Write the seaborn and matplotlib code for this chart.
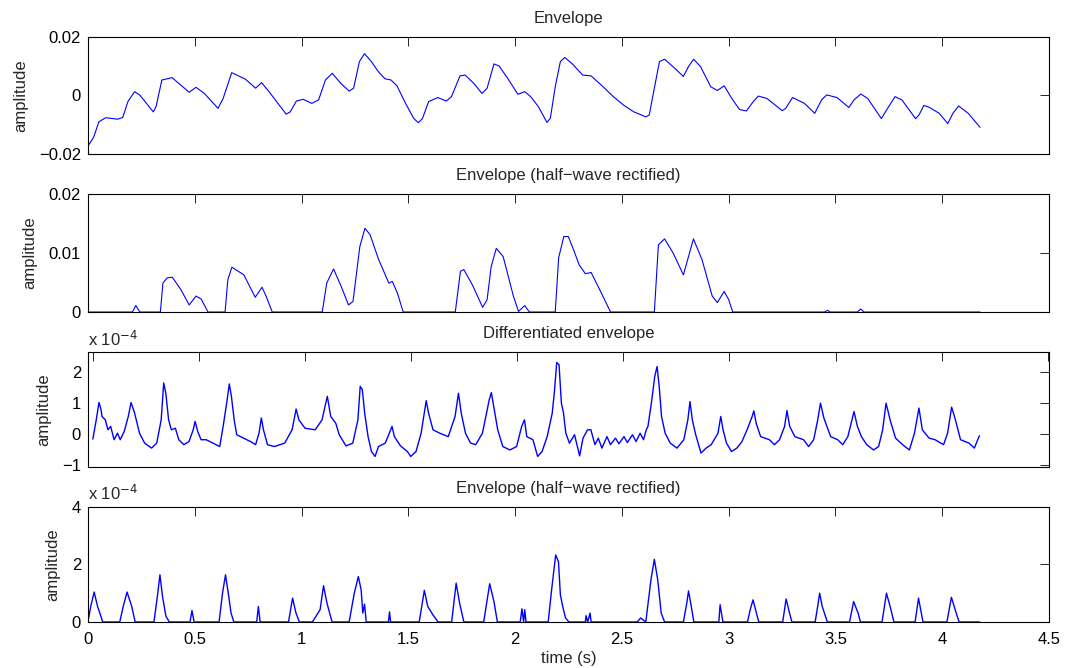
import numpy as np
import matplotlib.pyplot as plt
import seaborn as sns

# envelope (top panel)
env_t = [0.000, 0.027, 0.051, 0.083, 0.139, 0.163, 0.187, 0.218, 0.242, 0.306, 0.319, 0.346,
         0.394, 0.434, 0.474, 0.506, 0.545, 0.609, 0.633, 0.673, 0.737, 0.785, 0.813, 0.848,
         0.928, 0.947, 0.976, 1.008, 1.048, 1.080, 1.112, 1.144, 1.183, 1.223, 1.244, 1.271,
         1.295, 1.327, 1.359, 1.391, 1.419, 1.447, 1.487, 1.526, 1.547, 1.566, 1.595, 1.638,
         1.678, 1.702, 1.742, 1.766, 1.806, 1.845, 1.869, 1.901, 1.925, 1.965, 2.013, 2.045,
         2.073, 2.109, 2.149, 2.165, 2.188, 2.212, 2.233, 2.268, 2.316, 2.356, 2.412, 2.460,
         2.508, 2.556, 2.612, 2.628, 2.652, 2.676, 2.700, 2.748, 2.788, 2.812, 2.836, 2.868,
         2.916, 2.947, 2.979, 3.019, 3.051, 3.083, 3.115, 3.139, 3.179, 3.251, 3.267, 3.299,
         3.355, 3.403, 3.435, 3.459, 3.507, 3.563, 3.587, 3.619, 3.651, 3.715, 3.739, 3.779,
         3.811, 3.875, 3.891, 3.914, 3.938, 3.986, 4.026, 4.050, 4.077, 4.122, 4.177]
env_amp = [-0.0173, -0.0142, -0.0090, -0.0076, -0.0081, -0.0075, -0.0021, 0.0013, 0.0002, -0.0056,
           -0.0038, 0.0053, 0.0061, 0.0036, 0.0011, 0.0028, 0.0007, -0.0044, -0.0010, 0.0078,
           0.0056, 0.0025, 0.0044, 0.0013, -0.0064, -0.0056, -0.0019, -0.0013, -0.0027, -0.0015,
           0.0053, 0.0076, 0.0042, 0.0015, 0.0025, 0.0116, 0.0143, 0.0116, 0.0082, 0.0057,
           0.0053, 0.0033, -0.0027, -0.0079, -0.0093, -0.0079, -0.0021, -0.0007, -0.0019, -0.0004,
           0.0067, 0.0070, 0.0042, 0.0007, 0.0025, 0.0108, 0.0101, 0.0059, 0.0004, 0.0013,
           -0.0004, -0.0038, -0.0092, -0.0078, 0.0030, 0.0116, 0.0130, 0.0108, 0.0070, 0.0067,
           0.0030, -0.0004, -0.0033, -0.0056, -0.0073, -0.0067, 0.0025, 0.0116, 0.0124, 0.0093,
           0.0065, 0.0099, 0.0124, 0.0099, 0.0030, 0.0017, 0.0033, -0.0015, -0.0048, -0.0053,
           -0.0021, -0.0002, -0.0010, -0.0052, -0.0044, -0.0007, -0.0027, -0.0061, -0.0015, 0.0002,
           -0.0007, -0.0041, -0.0015, 0.0005, -0.0010, -0.0079, -0.0050, -0.0004, -0.0015, -0.0079,
           -0.0067, -0.0034, -0.0040, -0.0061, -0.0096, -0.0061, -0.0036, -0.0061, -0.0109]

# half-wave rectified envelope
rect_t = [0.000, 0.208, 0.224, 0.243, 0.339, 0.351, 0.371, 0.395, 0.435, 0.474, 0.506, 0.530,
          0.562, 0.642, 0.655, 0.674, 0.730, 0.783, 0.815, 0.834, 0.863, 1.097, 1.118, 1.150,
          1.185, 1.220, 1.241, 1.273, 1.297, 1.321, 1.361, 1.409, 1.425, 1.449, 1.476, 1.720,
          1.744, 1.760, 1.800, 1.848, 1.869, 1.888, 1.912, 1.944, 1.992, 2.016, 2.045, 2.067,
          2.188, 2.204, 2.228, 2.249, 2.268, 2.300, 2.329, 2.356, 2.396, 2.447, 2.652, 2.671,
          2.700, 2.740, 2.788, 2.812, 2.835, 2.875, 2.923, 2.947, 2.979, 3.000, 3.019, 3.450,
          3.463, 3.474, 3.602, 3.618, 3.634, 4.177]
rect_amp = [0, 0, 0.0011, 0, 0, 0.0049, 0.0058, 0.0059, 0.0038, 0.0012, 0.0027, 0.0022,
            0, 0, 0.0055, 0.0076, 0.0063, 0.0025, 0.0042, 0.0027, 0, 0, 0.0049, 0.0073,
            0.0044, 0.0012, 0.0018, 0.0111, 0.0142, 0.0131, 0.0089, 0.0049, 0.0052, 0.0032, 0, 0,
            0.0069, 0.0072, 0.0046, 0.0008, 0.0021, 0.0077, 0.0108, 0.0094, 0.0027, 0.0001, 0.0011, 0,
            0, 0.0092, 0.0128, 0.0128, 0.0111, 0.0080, 0.0065, 0.0067, 0.0038, 0, 0, 0.0114,
            0.0124, 0.0100, 0.0063, 0.0094, 0.0124, 0.0089, 0.0027, 0.0016, 0.0035, 0.0021, 0, 0,
            0.0003, 0, 0, 0.0005, 0, 0]

# differentiated envelope, in units of 1e-4
diff_t = [0.000, 0.016, 0.029, 0.039, 0.043, 0.059, 0.071, 0.084, 0.100, 0.116, 0.129, 0.148,
          0.167, 0.180, 0.196, 0.220, 0.244, 0.277, 0.301, 0.322, 0.334, 0.344, 0.357, 0.370,
          0.389, 0.405, 0.429, 0.453, 0.473, 0.482, 0.494, 0.510, 0.534, 0.566, 0.598, 0.614,
          0.633, 0.643, 0.653, 0.666, 0.678, 0.711, 0.743, 0.767, 0.783, 0.794, 0.804, 0.823,
          0.855, 0.904, 0.939, 0.958, 0.971, 1.000, 1.048, 1.080, 1.105, 1.121, 1.145, 1.161,
          1.193, 1.225, 1.249, 1.260, 1.270, 1.281, 1.297, 1.313, 1.330, 1.346, 1.378, 1.410,
          1.421, 1.450, 1.482, 1.498, 1.523, 1.547, 1.571, 1.582, 1.603, 1.635, 1.675, 1.707,
          1.723, 1.736, 1.756, 1.780, 1.804, 1.836, 1.868, 1.878, 1.892, 1.908, 1.932, 1.965,
          1.997, 2.021, 2.034, 2.045, 2.074, 2.096, 2.117, 2.141, 2.165, 2.176, 2.186, 2.197,
          2.208, 2.218, 2.229, 2.246, 2.270, 2.294, 2.310, 2.331, 2.347, 2.366, 2.382, 2.399,
          2.423, 2.439, 2.463, 2.479, 2.503, 2.519, 2.543, 2.560, 2.579, 2.595, 2.608, 2.616,
          2.632, 2.648, 2.659, 2.669, 2.680, 2.697, 2.721, 2.753,
          2.785, 2.804, 2.814, 2.825, 2.841, 2.866, 2.890, 2.914, 2.946, 2.959, 2.970, 2.986,
          3.010, 3.035, 3.059, 3.083, 3.107, 3.115, 3.126, 3.147, 3.188, 3.212, 3.236, 3.260,
          3.271, 3.284, 3.308, 3.349, 3.373, 3.397, 3.416, 3.429, 3.445, 3.477, 3.510, 3.534,
          3.558, 3.577, 3.587, 3.603, 3.622, 3.647, 3.679, 3.703, 3.722, 3.738, 3.759, 3.783,
          3.816, 3.848, 3.872, 3.893, 3.909, 3.941, 3.969, 4.009, 4.028, 4.047, 4.065, 4.089,
          4.129, 4.154, 4.178]
diff_amp = [-0.16, 0.46, 1.02, 0.78, 0.57, 0.46, 0.14, 0.25, -0.18, 0.03, -0.18, 0.09,
            0.57, 1.02, 0.70, 0.03, -0.29, -0.45, -0.29, 0.46, 1.65, 1.32, 0.46, 0.14,
            0.19, -0.18, -0.34, -0.24, 0.14, 0.41, 0.09, -0.18, -0.18, -0.29, -0.40, 0.25,
            1.11, 1.62, 1.22, 0.46, -0.02, -0.13, -0.24, -0.34, 0.03, 0.52, 0.14, -0.34,
            -0.40, -0.29, 0.14, 0.81, 0.46, 0.19, 0.14, 0.46, 1.22, 0.57, 0.35, -0.02,
            -0.38, -0.29, 0.46, 1.54, 1.43, 0.68, -0.08, -0.56, -0.72, -0.40, -0.29, 0.25,
            -0.08, -0.38, -0.56, -0.72, -0.56, 0.03, 1.08, 0.68, 0.14, 0.03, -0.08, 0.57,
            1.32, 0.68, 0.03, -0.29, -0.34, 0.03, 1.11, 1.34, 0.78, 0.14, -0.40, -0.51,
            -0.40, 0.25, 0.46, -0.08, -0.18, -0.72, -0.56, -0.08, 0.68, 1.43, 2.31, 2.24,
            1.00, 0.68, 0.03, -0.29, -0.02, -0.70, -0.13, 0.14, 0.14, -0.34, -0.13, -0.45,
            -0.08, -0.34, -0.13, -0.31, -0.08, -0.27, -0.02, -0.24, 0.03, -0.18, 0.14, 0.25,
            1.00, 1.86, 2.18, 1.54, 0.57, 0.03, -0.29, -0.45,
            -0.18, 0.46, 1.05, 0.46, -0.02, -0.61, -0.45, -0.34, 0.03, 0.57, 0.14, -0.29,
            -0.56, -0.45, -0.24, 0.14, 0.57, 0.75, 0.35, -0.08, -0.18, -0.34, -0.18, 0.25,
            0.76, 0.25, -0.08, -0.18, -0.40, -0.18, 0.46, 1.00, 0.52, -0.08, -0.18, -0.34,
            -0.08, 0.46, 0.73, 0.25, -0.08, -0.34, -0.51, -0.40, 0.14, 1.00, 0.41, -0.13,
            -0.34, -0.51, 0.03, 0.84, 0.14, -0.13, -0.18, -0.34, 0.03, 0.87, 0.46, -0.18,
            -0.29, -0.45, -0.05]

# half-wave rectified differentiated envelope, in units of 1e-4
drect_t = [0.000, 0.013, 0.029, 0.045, 0.053, 0.069, 0.093, 0.149, 0.165, 0.183, 0.205, 0.221,
           0.309, 0.325, 0.337, 0.349, 0.365, 0.381, 0.478, 0.487, 0.497, 0.614, 0.630, 0.644,
           0.657, 0.670, 0.683, 0.790, 0.798, 0.806, 0.939, 0.958, 0.974, 0.990, 1.051, 1.087,
           1.103, 1.119, 1.143, 1.223, 1.247, 1.266, 1.279, 1.287, 1.295, 1.303, 1.407, 1.412,
           1.417, 1.551, 1.575, 1.591, 1.615, 1.639, 1.703, 1.724, 1.740, 1.760, 1.853, 1.881,
           1.901, 1.917, 2.024, 2.032, 2.040, 2.045, 2.051, 2.155, 2.171, 2.190, 2.203, 2.212,
           2.223, 2.236, 2.252, 2.329, 2.332, 2.340, 2.351, 2.356, 2.572, 2.588, 2.612, 2.636,
           2.652, 2.668, 2.684, 2.700, 2.788, 2.804, 2.812, 2.825, 2.837, 2.954, 2.960, 2.973,
           3.088, 3.101, 3.114, 3.130, 3.141, 3.253, 3.269, 3.285, 3.296, 3.405, 3.418, 3.426,
           3.438, 3.462, 3.566, 3.585, 3.606, 3.617, 3.718, 3.739, 3.758, 3.774, 3.873, 3.889,
           3.902, 3.910, 4.022, 4.043, 4.063, 4.079, 4.175]
drect_amp = [0, 0.54, 1.04, 0.54, 0.37, 0, 0, 0, 0.54, 1.04, 0.54, 0,
             0, 0.89, 1.64, 0.89, 0.20, 0, 0, 0.40, 0, 0, 1.00, 1.64,
             1.00, 0.31, 0, 0, 0.54, 0, 0, 0.83, 0.31, 0, 0, 0.43,
             1.26, 0.66, 0, 0, 1.00, 1.58, 1.12, 0.31, 0.62, 0, 0, 0.35,
             0, 0, 1.10, 0.54, 0.25, 0, 0, 1.35, 0.66, 0, 0, 1.33,
             0.71, 0, 0, 0.46, 0, 0.43, 0, 0, 1.12, 2.33, 2.10, 0.95,
             0.54, 0.14, 0, 0, 0.22, 0, 0.31, 0, 0, 0.14, 0, 1.46,
             2.18, 1.46, 0.31, 0, 0, 0.66, 1.08, 0.54, 0, 0, 0.60, 0,
             0, 0.43, 0.77, 0.31, 0, 0, 0.80, 0.31, 0, 0, 0.60, 1.00,
             0.54, 0, 0, 0.71, 0.31, 0, 0, 1.00, 0.48, 0, 0, 0.83,
             0.31, 0, 0, 0.86, 0.37, 0, 0]

titles = ["Envelope", "Envelope (half\u2212wave rectified)", "Differentiated envelope",
          "Envelope (half\u2212wave rectified)"]
x_ticks = [0, 0.5, 1, 1.5, 2, 2.5, 3, 3.5, 4, 4.5]
x_tick_labels = ["0", "0.5", "1", "1.5", "2", "2.5", "3", "3.5", "4", "4.5"]

sns.set_theme(style="white")
plt.rcParams['font.family'] = ['Liberation Sans', 'DejaVu Sans']
plt.rcParams['mathtext.fontset'] = 'custom'
plt.rcParams['mathtext.rm'] = 'Liberation Sans'
plt.rcParams['mathtext.default'] = 'regular'

fig = plt.figure(figsize=(10.9, 6.68), dpi=100)

# (bottom, height) of each panel in figure fraction
rows = [(0.7695, 0.1751), (0.5329, 0.1766), (0.3009, 0.1722), (0.0689, 0.1722)]
panels = [
    (env_t, env_amp, (-0.02, 0.02), [-0.02, 0, 0.02], ["\u22120.02", "0", "0.02"], False, 0.8),
    (rect_t, rect_amp, (0, 0.02), [0, 0.01, 0.02], ["0", "0.01", "0.02"], False, 0.8),
    (diff_t, diff_amp, (-1.06, 2.65), [-1, 0, 1, 2], ["\u22121", "0", "1", "2"], True, 1.0),
    (drect_t, drect_amp, (0, 4), [0, 2, 4], ["0", "2", "4"], True, 1.0),
]

for i, (t, amp, ylim, yt, ytl, scaled, lw) in enumerate(panels):
    bottom, height = rows[i]
    ax = fig.add_axes([0.0807, bottom, 0.8817, height])
    sns.lineplot(x=t, y=amp, ax=ax, color="#0000ff", linewidth=lw,
                 estimator=None, sort=False)
    if i == 2:
        ax.set_xlim(-0.023, 4.506)
    else:
        ax.set_xlim(0, 4.5)
    ax.set_ylim(*ylim)
    ax.set_yticks(yt)
    ax.set_yticklabels(ytl)
    ax.set_xticks(x_ticks)
    if i == 3:
        ax.set_xticklabels(x_tick_labels)
        ax.set_xlabel("time (s)", fontsize=12, labelpad=3)
    else:
        ax.set_xticklabels([])
    ax.set_ylabel("amplitude", fontsize=12, labelpad=8)
    ax.set_title(titles[i], fontsize=12, pad=10)
    ax.tick_params(direction="in", length=6.5, width=0.6, top=True, right=True,
                   labelsize=12, colors="black", pad=5)
    ax.tick_params(axis="x", pad=7)
    for s in ax.spines.values():
        s.set_color("black")
        s.set_linewidth(0.8)
    if scaled:
        ax.text(0.0, 1.03, r"x 10$^{\mathsf{-4}}$", transform=ax.transAxes,
                fontsize=12, ha="left", va="bottom")

fig.savefig("out.png", dpi=100)
